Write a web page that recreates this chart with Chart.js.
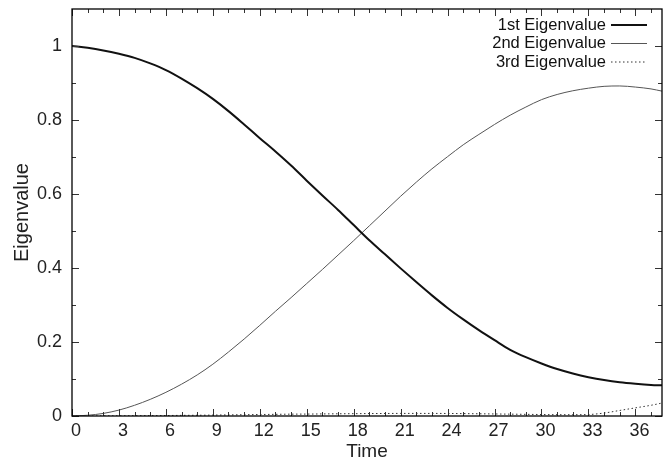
<!DOCTYPE html>
<html>
<head>
<meta charset="utf-8">
<script src="https://cdn.jsdelivr.net/npm/chart.js@4"></script>
<style>
  html, body { margin: 0; padding: 0; background: #fff; }
</style>
</head>
<body>
<canvas id="eigChart" width="670" height="467"></canvas>
<script>
// time axis samples
const time = [0, 1, 2, 3, 4, 5, 6, 7, 8, 9, 10, 11, 12, 13, 14, 15, 16, 17, 18, 19,
  20, 21, 22, 23, 24, 25, 26, 27, 28, 29, 30, 31, 32, 33, 34, 35, 36, 37, 37.7];

const eig1 = [1.000, 0.995, 0.988, 0.979, 0.968, 0.953, 0.935, 0.912, 0.886, 0.857,
  0.824, 0.788, 0.751, 0.715, 0.677, 0.636, 0.596, 0.557, 0.516, 0.475,
  0.437, 0.399, 0.362, 0.326, 0.292, 0.261, 0.232, 0.205, 0.179, 0.159,
  0.142, 0.127, 0.115, 0.105, 0.097, 0.091, 0.087, 0.084, 0.083];

const eig2 = [0.000, 0.002, 0.007, 0.016, 0.029, 0.045, 0.064, 0.086, 0.111, 0.140,
  0.173, 0.208, 0.245, 0.283, 0.320, 0.358, 0.396, 0.435, 0.474, 0.514,
  0.554, 0.594, 0.632, 0.668, 0.701, 0.733, 0.761, 0.788, 0.813, 0.835,
  0.855, 0.869, 0.879, 0.886, 0.891, 0.892, 0.889, 0.884, 0.878];

const eig3 = [0.000, 0.000, 0.0003, 0.0005, 0.0008, 0.001, 0.0013, 0.0017, 0.002, 0.0025,
  0.003, 0.0035, 0.004, 0.0045, 0.005, 0.0052, 0.0056, 0.006, 0.0063, 0.0066,
  0.0068, 0.007, 0.007, 0.007, 0.0068, 0.0065, 0.006, 0.0055, 0.005, 0.0045,
  0.004, 0.0035, 0.0035, 0.004, 0.008, 0.015, 0.022, 0.029, 0.035];

const seriesNames = ['1st Eigenvalue', '2nd Eigenvalue', '3rd Eigenvalue'];
const xTicks = [0, 3, 6, 9, 12, 15, 18, 21, 24, 27, 30, 33, 36];
const yTicks = [0, 0.2, 0.4, 0.6, 0.8, 1];
const yTickLabels = ['0', '0.2', '0.4', '0.6', '0.8', '1'];

const FONT = "'Liberation Sans', Arial, Helvetica, sans-serif";

const toPoints = (vals) => vals.map((v, i) => ({ x: time[i], y: v }));

// gnuplot-like frame with inward major/minor ticks on every side
const frameTicks = {
  id: 'frameTicks',
  afterDatasetsDraw(chart) {
    const { ctx, chartArea: a, scales: { x, y } } = chart;
    ctx.save();
    ctx.strokeStyle = '#333';
    ctx.lineWidth = 1;
    ctx.beginPath();
    for (let t = 0; t <= x.max; t += 1) {
      const px = Math.round(x.getPixelForValue(t)) + 0.5;
      const len = t % 3 === 0 ? 7 : 4;
      ctx.moveTo(px, a.bottom); ctx.lineTo(px, a.bottom - len);
      ctx.moveTo(px, a.top); ctx.lineTo(px, a.top + len);
    }
    for (let k = 0; k <= 10; k++) {
      const py = Math.round(y.getPixelForValue(k / 10)) + 0.5;
      const len = k % 2 === 0 ? 7 : 4;
      ctx.moveTo(a.left, py); ctx.lineTo(a.left + len, py);
      ctx.moveTo(a.right, py); ctx.lineTo(a.right - len, py);
    }
    ctx.stroke();
    ctx.strokeStyle = '#000';
    ctx.lineWidth = 1.3;
    ctx.strokeRect(a.left, a.top, a.right - a.left, a.bottom - a.top);
    ctx.restore();
  }
};

// key in the top right corner: label first, line sample after it
const keyBox = {
  id: 'keyBox',
  afterDraw(chart) {
    const { ctx } = chart;
    ctx.save();
    ctx.font = '16.5px ' + FONT;
    ctx.fillStyle = '#111';
    ctx.textAlign = 'right';
    ctx.textBaseline = 'middle';
    chart.data.datasets.forEach((ds, i) => {
      const yy = 25 + i * 18.5;
      ctx.fillText(ds.label, 606, yy);
      ctx.beginPath();
      ctx.strokeStyle = ds.borderColor;
      ctx.lineWidth = ds.borderWidth;
      ctx.setLineDash(ds.borderDash || []);
      ctx.moveTo(611, yy);
      ctx.lineTo(647, yy);
      ctx.stroke();
    });
    ctx.restore();
  }
};

new Chart(document.getElementById('eigChart'), {
  type: 'line',
  data: {
    datasets: [
      { label: seriesNames[0], data: toPoints(eig1), borderColor: '#111', borderWidth: 2 },
      { label: seriesNames[1], data: toPoints(eig2), borderColor: '#555', borderWidth: 1 },
      { label: seriesNames[2], data: toPoints(eig3), borderColor: '#333', borderWidth: 1, borderDash: [1.5, 2.5] }
    ]
  },
  options: {
    responsive: false,
    animation: false,
    layout: { padding: { top: 9, right: 8, left: 0, bottom: 0 } },
    elements: {
      point: { radius: 0 },
      line: { cubicInterpolationMode: 'monotone', fill: false }
    },
    plugins: { legend: { display: false }, tooltip: { enabled: false } },
    scales: {
      x: {
        type: 'linear', min: 0, max: 37.7,
        afterBuildTicks: (s) => { s.ticks = xTicks.map(v => ({ value: v })); },
        afterFit: (s) => { s.height = 51; s.paddingLeft = 0; s.paddingRight = 0; },
        grid: { display: false, drawTicks: false },
        border: { display: false },
        ticks: { color: '#222', font: { size: 18, family: FONT }, padding: 4, labelOffset: 4, maxRotation: 0, autoSkip: false },
        title: { display: true, text: 'Time', color: '#222', font: { size: 19, family: FONT }, padding: { bottom: 4 } }
      },
      y: {
        type: 'linear', min: 0, max: 1.1,
        afterBuildTicks: (s) => { s.ticks = yTicks.map(v => ({ value: v })); },
        afterFit: (s) => { s.width = 72; s.paddingTop = 0; s.paddingBottom = 0; },
        grid: { display: false, drawTicks: false },
        border: { display: false },
        ticks: {
          color: '#222', font: { size: 18, family: FONT }, padding: 10, autoSkip: false,
          callback: (v) => yTickLabels[yTicks.indexOf(v)]
        },
        title: { display: true, text: 'Eigenvalue', color: '#222', font: { size: 20, family: FONT }, padding: { top: 10 } }
      }
    }
  },
  plugins: [frameTicks, keyBox]
});
</script>
</body>
</html>
